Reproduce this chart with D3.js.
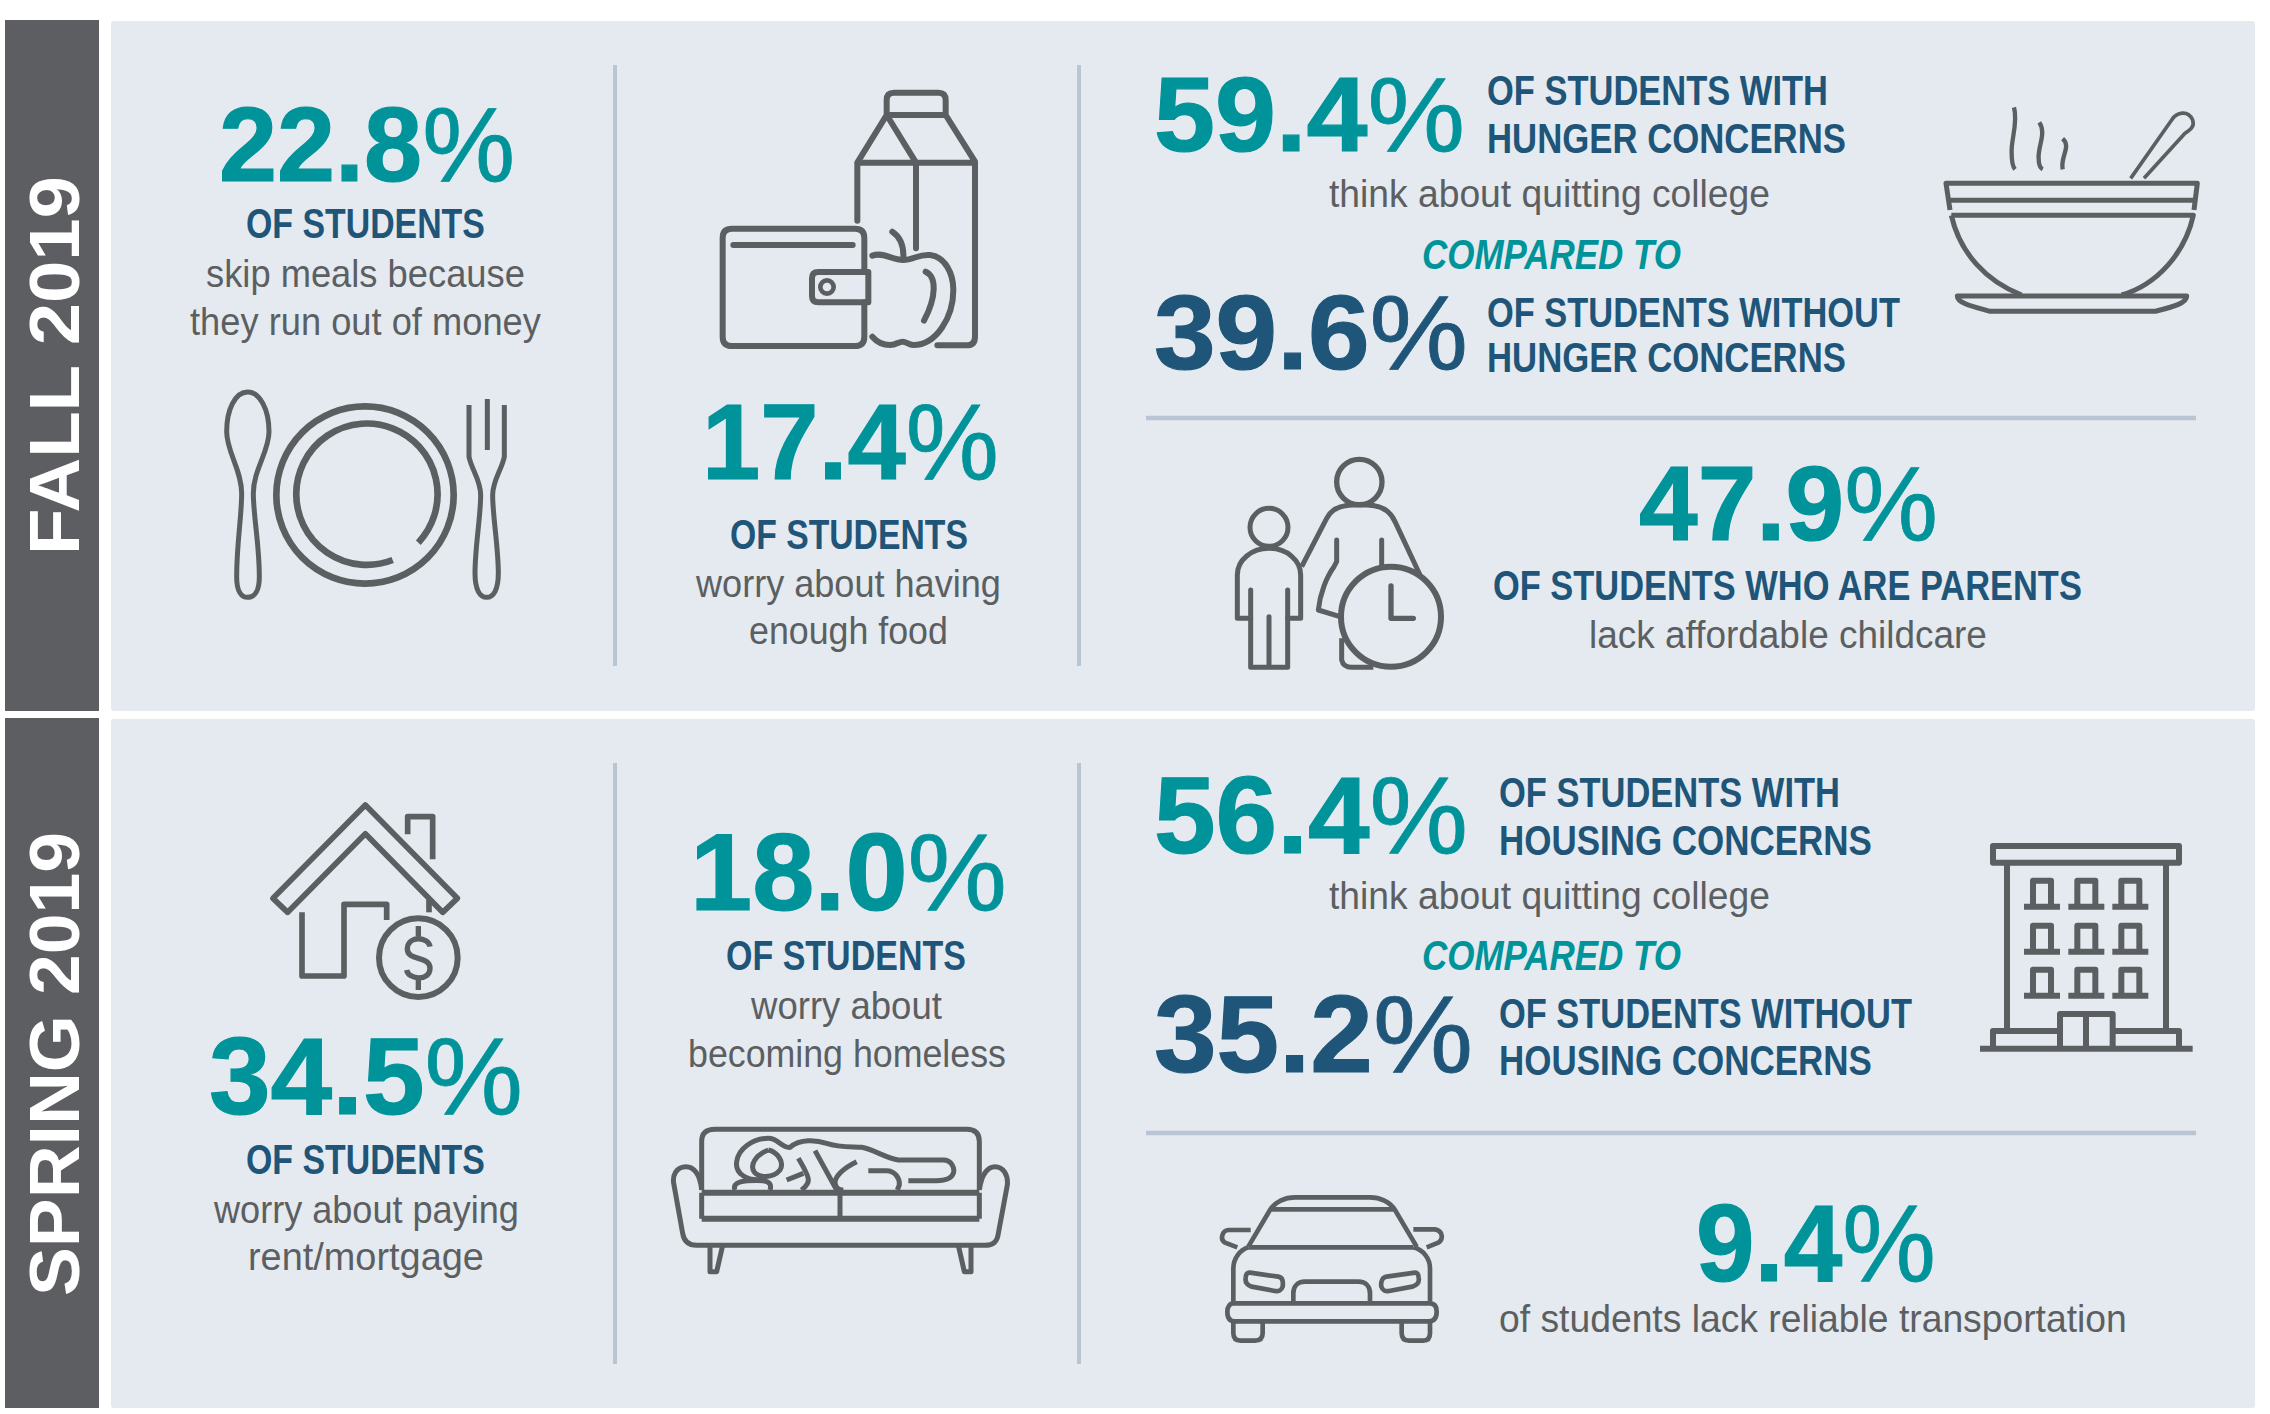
<!DOCTYPE html>
<html>
<head>
<meta charset="utf-8">
<script src="https://d3js.org/d3.v7.min.js"></script>
<style>
  html, body { margin: 0; padding: 0; background: #fff; }
  svg { display: block; }
  .icon * { fill: none; stroke: #5c5f62; stroke-linejoin: round; }
</style>
</head>
<body>
<div id="chart"></div>
<script>
// Values
const periods = ["FALL 2019", "SPRING 2019"];
const statValues = [22.8, 17.4, 59.4, 39.6, 47.9, 34.5, 18.0, 56.4, 35.2, 9.4];
const statKinds = ["teal", "teal", "teal", "navy", "teal", "teal", "teal", "teal", "navy", "teal"];
const headLines = [
  "OF STUDENTS", "OF STUDENTS", "OF STUDENTS WITH", "HUNGER CONCERNS",
  "OF STUDENTS WITHOUT", "HUNGER CONCERNS", "OF STUDENTS WHO ARE PARENTS",
  "OF STUDENTS", "OF STUDENTS", "OF STUDENTS WITH", "HOUSING CONCERNS",
  "OF STUDENTS WITHOUT", "HOUSING CONCERNS"
];
const bodyLines = [
  "skip meals because", "they run out of money", "worry about having", "enough food",
  "think about quitting college", "lack affordable childcare",
  "worry about paying", "rent/mortgage", "worry about", "becoming homeless",
  "think about quitting college", "of students lack reliable transportation"
];
const compareLines = ["COMPARED TO", "COMPARED TO"];

// Layout, each row is [x, width, baseline] and lines up with the arrays above
const periodBoxes = [
  { top: 20, bottom: 711, textTop: 176, textBottom: 555 },
  { top: 718, bottom: 1408, textTop: 832, textBottom: 1296 }
];
const statBoxes = [
  [219, 296, 181, 106], [702, 297, 479, 108], [1154, 311, 151, 106], [1154, 314, 369, 106],
  [1639, 299, 540, 106], [209, 314, 1114, 109], [690, 317, 910, 109], [1154, 314, 853, 109],
  [1154, 319, 1072, 109], [1696, 240, 1281, 109]
];
const headBoxes = [
  [246, 239, 238], [730, 238, 549], [1487, 341, 105], [1487, 359, 153],
  [1487, 413, 327], [1487, 359, 372], [1493, 589, 600],
  [246, 239, 1174], [726, 240, 970], [1499, 341, 807], [1499, 373, 855],
  [1499, 413, 1028], [1499, 373, 1075]
];
const bodyBoxes = [
  [206, 319, 287], [190, 351, 335], [696, 305, 597], [749, 199, 644],
  [1329, 441, 207], [1589, 398, 648],
  [214, 305, 1223], [248, 236, 1270], [751, 191, 1019], [688, 318, 1067],
  [1329, 441, 909], [1499, 628, 1332]
];
const compareBoxes = [[1422, 259, 269], [1422, 259, 970]];

const colors = { panel: "#e4eaef", bar: "#5c5e61", teal: "#00939a", navy: "#1f5578", gray: "#5c5f62", rule: "#b9c5d3" };
const narrow = "'Liberation Sans Narrow', 'Liberation Sans', sans-serif";

const svg = d3.select("#chart")
  .append("svg")
  .attr("width", 2270)
  .attr("height", 1414);

// Squeeze a text to the width it has in the picture
function fitText(sel, x, width, y) {
  const len = sel.node().getComputedTextLength();
  sel.attr("transform", `translate(${x},${y}) scale(${width / len},1)`);
  return sel;
}

function addText(str, box, size, color, weight, style) {
  const t = svg.append("text")
    .style("font-family", narrow)
    .style("font-size", size + "px")
    .style("font-weight", weight)
    .style("font-style", style || "normal")
    .style("fill", color)
    .text(str);
  return fitText(t, box[0], box[1], box[2]);
}

// Panels and side bars
periodBoxes.forEach((p, i) => {
  svg.append("rect").attr("x", 5).attr("y", p.top).attr("width", 94).attr("height", p.bottom - p.top).style("fill", colors.bar);
  svg.append("rect").attr("x", 111).attr("y", p.top + 1).attr("width", 2144).attr("height", p.bottom - p.top - 1).attr("rx", 3).style("fill", colors.panel);

  const label = svg.append("text")
    .style("font-family", "'Liberation Sans', sans-serif")
    .style("font-size", "71px")
    .style("font-weight", 700)
    .style("fill", "#fff")
    .text(periods[i]);
  const len = label.node().getComputedTextLength();
  label.attr("transform", `translate(79,${p.textBottom}) rotate(-90) scale(${(p.textBottom - p.textTop) / len},1)`);
});

// Divider lines
const verticalRules = [[615, 65, 666], [1079, 65, 666], [615, 763, 1364], [1079, 763, 1364]];
const horizontalRules = [[1146, 2196, 418], [1146, 2196, 1133]];
svg.selectAll("line.v").data(verticalRules).enter().append("line")
  .attr("class", "v")
  .attr("x1", d => d[0]).attr("x2", d => d[0]).attr("y1", d => d[1]).attr("y2", d => d[2])
  .style("stroke", colors.rule).style("stroke-width", 4);
svg.selectAll("line.h").data(horizontalRules).enter().append("line")
  .attr("class", "h")
  .attr("x1", d => d[0]).attr("x2", d => d[1]).attr("y1", d => d[2]).attr("y2", d => d[2])
  .style("stroke", colors.rule).style("stroke-width", 4.5);

// Big numbers, the percent sign is lighter and narrower than the digits
statValues.forEach((v, i) => {
  const b = statBoxes[i];
  const c = colors[statKinds[i]];
  const t = svg.append("text")
    .style("font-family", "'Liberation Sans', sans-serif")
    .style("font-size", b[3] + "px")
    .style("font-weight", 700)
    .style("fill", c);
  t.append("tspan").style("stroke", c).style("stroke-width", 1.2).text(d3.format(".1f")(v));
  t.append("tspan").style("font-family", narrow).style("font-weight", 400).style("stroke", c).style("stroke-width", 0.8).text("%");
  fitText(t, b[0], b[1], b[2]);
});

headLines.forEach((s, i) => addText(s, headBoxes[i], 43, colors.navy, 700));
bodyLines.forEach((s, i) => addText(s, bodyBoxes[i], 39, colors.gray, 400));
compareLines.forEach((s, i) => addText(s, compareBoxes[i], 42, colors.teal, 700, "italic"));

// Icons, drawn at 3x and scaled down
function icon(x, y, sw, paths) {
  const g = svg.append("g")
    .attr("class", "icon")
    .attr("transform", `translate(${x},${y}) scale(${1 / 3})`)
    .style("stroke-width", sw);
  paths.forEach(p => {
    if (typeof p === "string") g.append("path").attr("d", p);
    else g.append("path").attr("d", p[0]).style("stroke-width", p[1]).style("stroke-linecap", p[2] || "butt");
  });
  return g;
}

// circle as a path so everything goes through one helper
const ring = (cx, cy, r) => `M${cx - r} ${cy}A${r} ${r} 0 1 1 ${cx + r} ${cy}A${r} ${r} 0 1 1 ${cx - r} ${cy}Z`;

// plate, spoon, fork
icon(200, 370, 15, [
  "M143 66C105 66 80 120 80 185C80 245 125 300 125 370C125 440 110 520 110 620C110 665 125 682 143 682C165 682 178 660 178 620C178 520 160 440 160 370C160 300 207 245 207 185C207 120 180 66 143 66Z",
  [ring(495, 375, 266), 20],
  [`M578 570A212 212 0 1 1 655 518`, 20],
  "M807 105V260C815 300 842 330 842 375C842 440 825 530 825 610C825 660 840 682 860 682C880 682 895 660 895 610C895 530 878 440 878 375C878 330 905 300 913 260V105",
  "M862 87V240"
]);

// milk, wallet, apple
icon(710, 80, 18, [
  ["M442 422V248H795M442 248L530 105V60Q530 38 552 38H685Q707 38 707 60V105H530M707 105L795 245V770Q795 796 770 796H682M530 105L618 248V505", 18, "round"],
  ["M463 576V474Q463 446 435 446H66Q38 446 38 474V770Q38 798 66 798H435Q463 798 463 770V667", 18, "round"],
  ["M70 495H428", 18, "round"],
  ["M475 576H325Q306 576 306 595V648Q306 667 325 667H475V576", 18, "round"],
  [ring(351, 621, 20), 14],
  ["M487 527C520 515 545 540 580 540C610 540 625 522 660 525C705 530 730 580 730 630C730 710 680 795 610 795C595 795 590 785 578 785C565 785 560 795 540 795C520 795 500 785 487 770", 18, "round"],
  ["M547 455C570 470 582 495 580 535", 18, "round"],
  ["M647 575C680 590 680 650 642 722", 18, "round"]
]);

// soup bowl
icon(1940, 90, 15, [
  ["M222 52C235 100 212 150 215 190C215 215 218 230 225 238", 13],
  ["M298 97C320 130 293 170 296 205C296 225 302 235 308 238", 13],
  ["M368 146C395 170 360 200 368 238", 13],
  ["M572 265L695 90C710 65 745 60 758 90C765 110 750 120 735 130L612 265", 11],
  "M30 360L18 280H772L762 360",
  "M27 331H765",
  "M34 376H760C735 490 650 585 545 615M34 376C60 490 140 575 245 615",
  "M52 618H740C740 640 700 650 645 664H150C100 650 52 640 52 618Z"
]);

// parent, child, clock
icon(1220, 450, 15, [
  [ring(418, 96, 68), 16],
  [ring(147, 232, 57), 15],
  ["M92 420V652H203V420M147 500V652", 15, "round"],
  ["M92 505H52V375C52 330 95 295 147 295C200 295 242 330 242 375V505H203", 15, "round"],
  ["M245 350L320 205C335 175 365 165 400 165H440C480 165 510 180 525 215L600 375", 15],
  ["M350 270V335L342 350C320 380 300 430 295 480L360 500", 15, "round"],
  ["M485 270V350", 15, "round"],
  [ring(513, 500, 150), 18],
  ["M513 408V505H580", 16, "round"],
  ["M365 565V630Q370 652 395 652H460", 15]
]);

// house with coin
icon(250, 795, 17, [
  "M346 30L622 310L578 352L346 116L113 352L69 310Z",
  "M473 118V65H548V193",
  "M156 352V543H282V328H410V375",
  "M537 310V352",
  [ring(505, 488, 118), 18],
  ["M540 455C535 425 475 420 472 460C470 500 540 480 540 520C540 560 475 555 470 525", 16],
  ["M505 393V425M505 555V585", 16]
]);

// couch with sleeping person
icon(660, 1110, 15, [
  "M125 240V95Q125 58 165 58H920Q958 58 958 95V240",
  ["M125 248H958M125 326H958", 18],
  "M125 248V326M958 248V326M540 248V320",
  "M125 240C120 190 100 170 78 170C50 170 35 195 42 225L68 370C72 395 85 406 110 406H975C1000 406 1012 395 1015 370L1042 225C1045 195 1030 170 1005 170C985 170 965 190 958 240",
  "M150 406V485H170L188 406M895 406L913 485H933V406",
  "M310 208C260 215 225 190 230 155C235 115 280 85 325 85C355 85 365 115 390 112C420 85 470 90 500 100C535 112 570 110 605 112C640 118 680 145 715 150H850C875 150 885 175 880 190C875 205 860 212 830 212H745",
  "M325 120C285 135 270 165 282 185C295 205 340 205 360 180C375 155 350 125 325 120",
  "M225 240C215 215 250 210 310 212C330 215 335 225 330 240",
  "M415 145C430 170 445 195 445 210C445 225 430 235 425 240M380 210L430 190",
  "M465 122L530 240M590 155C560 170 530 190 525 215C525 235 540 240 550 240",
  "M625 182H680C705 182 720 205 718 225L712 240"
]);

// apartment building, three rows of three windows
const windowColumns = [216, 349, 481];
const windowSills = [230, 365, 497];
const windowPaths = [];
windowSills.forEach(s => windowColumns.forEach(c => {
  windowPaths.push(`M${c - 27} ${s}V${s - 78}H${c + 27}V${s}M${c - 54} ${s}H${c + 54}`);
}));
icon(1970, 830, 18, [
  "M69 48H627V98H69Z",
  "M111 98V600M588 98V600",
  "M69 656V603H270M428 603H627V656",
  "M270 656V552H428V656M348 552V656",
  "M30 656H668",
  ...windowPaths
]);

// car
icon(1210, 1190, 14, [
  "M115 170L180 60C195 35 225 22 255 22H480C510 22 540 35 555 60L620 170",
  "M185 58H550",
  "M115 172H610",
  "M70 340V235C70 205 90 180 115 172M660 340V235C660 205 640 180 610 172",
  "M122 120H55C35 122 30 150 45 158L82 172M610 118H675C700 122 700 150 685 158L650 172",
  "M120 248L205 260C218 262 220 275 218 290C215 300 205 305 195 303L125 290C108 285 105 275 107 262C108 252 112 247 120 248Z",
  "M615 248L530 260C517 262 512 275 514 290C517 300 527 305 537 303L607 290C625 285 628 275 626 262C625 252 620 247 615 248Z",
  "M250 340V310C250 290 262 275 285 275H445C468 275 480 290 480 310V340",
  "M70 340H660C675 340 680 350 680 365C680 385 670 394 655 394H75C60 394 52 385 52 365C52 350 60 340 70 340Z",
  "M70 394V430Q70 452 92 452H135Q158 452 158 430V394M575 394V430Q575 452 597 452H640Q660 452 660 430V394"
]);
</script>
</body>
</html>
